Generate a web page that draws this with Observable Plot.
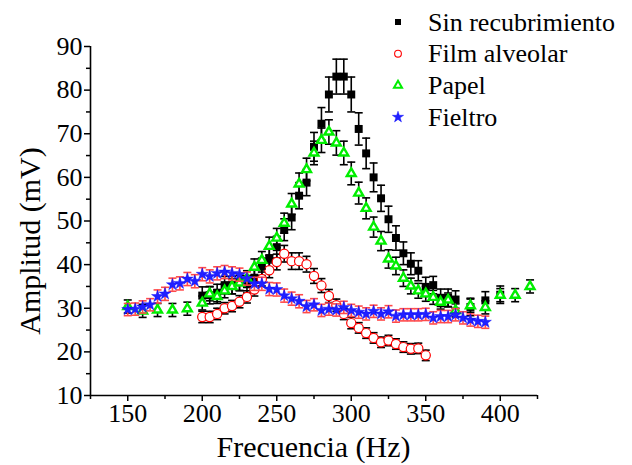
<!DOCTYPE html>
<html><head><meta charset="utf-8">
<script src="https://cdn.jsdelivr.net/npm/d3@7"></script>
<script src="https://cdn.jsdelivr.net/npm/@observablehq/plot@0.6"></script>
<style>
html,body{margin:0;padding:0;background:#fff;}
#wrap{position:relative;width:632px;height:465px;}
#wrap svg text{font-family:"Liberation Serif","Times New Roman",serif;}
</style></head><body><div id="wrap"></div>
<script>
// ---- data ----
const seriesNames = ["Sin recubrimiento", "Film alveolar", "Papel", "Fieltro"];

const fSin = [200,205,210,215,220,225,230,235,240,245,250,255,260,265,270,275,280,285,290,295,300,305,310,315,320,325,330,335,340,345,350,355,360,365,370,380,390,400];
const vSin = [32.9,33.0,33.5,35.3,35.3,36.0,35.5,37.0,39.5,41.5,44.0,48.0,50.8,55.8,58.8,67.0,72.3,79.0,83.1,83.1,79.0,71.1,65.5,60.0,55.2,50.4,46.1,42.6,40.2,38.6,34.9,35.3,32.4,32.4,32.0,30.3,31.8,33.1];
const eSin = [2,2,2,2,2,2,2,2,2,2.2,2.5,2.5,2.8,3,3,3.3,3.7,4,4,4,4,3.7,3.5,3.3,3,3,2.8,2.6,2.5,2.3,2.2,2,2,2,2,2,2,2];

const fFilm = [200,205,210,215,220,225,230,235,240,245,250,255,260,265,270,275,280,285,290,295,300,305,310,315,320,325,330,335,340,345,350];
const vFilm = [28.0,28.0,28.7,30.0,30.5,31.5,32.6,34.3,36.7,38.7,40.6,42.5,40.8,40.8,40.1,37.4,35.2,32.8,30.7,28.7,26.6,25.5,24.3,23.2,22.2,22.6,21.8,21.1,20.7,20.8,19.2];
const eFilm = [1.3,1.3,1.3,1.3,1.3,1.4,1.4,1.5,1.6,1.7,1.8,1.9,1.9,1.9,1.8,1.7,1.6,1.5,1.4,1.3,1.3,1.2,1.2,1.2,1.2,1.2,1.2,1.2,1.2,1.2,1.2];

const fPapel = [150,160,170,180,190,200,205,210,215,220,225,230,235,240,245,250,255,260,265,270,275,280,285,290,295,300,305,310,315,320,325,330,335,340,345,350,355,360,365,370,380,390,400,410,420];
const vPapel = [30.4,29.4,29.6,29.6,29.9,31.2,33.3,32.7,34.0,35.0,35.8,36.8,39.4,41.0,44.2,46.1,49.5,53.9,58.5,61.8,65.6,68.5,70.4,67.9,65.6,60.9,56.4,52.9,48.6,45.4,41.3,39.7,36.9,35.1,34.0,33.3,32.5,31.4,31.9,29.5,30.6,30.2,33.0,33.0,35.0];
const ePapel = [1.5,1.5,1.5,1.5,1.5,1.6,1.6,1.6,1.6,1.7,1.7,1.8,1.9,2,2.1,2.2,2.3,2.4,2.5,2.6,2.7,2.8,2.8,2.8,2.7,2.6,2.5,2.4,2.3,2.2,2.1,2,1.9,1.8,1.7,1.7,1.6,1.6,1.6,1.5,1.5,1.5,1.5,1.5,1.5];

const fFieltro = [150,155,160,165,170,175,180,185,190,195,200,205,210,215,220,225,230,235,240,245,250,255,260,265,270,275,280,285,290,295,300,305,310,315,320,325,330,335,340,345,350,355,360,365,370,375,380,385,390];
const vFieltro = [29.7,29.8,30.3,30.8,32.7,33.3,35.4,35.7,36.7,36.2,37.8,37.3,38.0,38.3,38.0,37.7,36.8,35.6,35.6,34.4,34.3,32.9,32.2,31.6,30.4,30.8,29.5,29.8,29.6,30.2,29.5,29.1,28.7,29.3,28.7,29.2,28.2,28.5,28.5,28.5,28.6,27.8,28.1,28.1,28.5,27.8,27.3,27.0,26.8];
const eFieltro = [1.4,1.4,1.4,1.4,1.5,1.5,1.5,1.5,1.5,1.5,1.5,1.5,1.5,1.5,1.5,1.5,1.5,1.5,1.5,1.5,1.5,1.5,1.5,1.5,1.4,1.4,1.4,1.4,1.4,1.4,1.4,1.4,1.4,1.4,1.4,1.4,1.4,1.4,1.4,1.4,1.4,1.4,1.4,1.4,1.4,1.4,1.4,1.4,1.4];

const xMajor = [150,200,250,300,350,400];
const xMinor = [125,175,225,275,325,375,425];
const yMajor = [10,20,30,40,50,60,70,80,90];
const yMinor = [15,25,35,45,55,65,75,85];
const xTitle = "Frecuencia (Hz)";
const yTitle = "Amplitud (mV)";

// ---- build tables ----
const rows = (f, v, e) => f.map((x, i) => ({f: x, v: v[i], lo: v[i] - e[i], hi: v[i] + e[i]}));
const dSin = rows(fSin, vSin, eSin);
const dFilm = rows(fFilm, vFilm, eFilm);
const dPapel = rows(fPapel, vPapel, ePapel);
const dFieltro = rows(fFieltro, vFieltro, eFieltro);

const cap = {draw(ctx, size) { const w = Math.sqrt(size / Math.PI); ctx.moveTo(-w, 0); ctx.lineTo(w, 0); }};
const font = "'Liberation Serif', 'Times New Roman', serif";

function errMarks(data, color) {
  return [
    Plot.ruleX(data, {x: "f", y1: "lo", y2: "hi", stroke: color, strokeWidth: 1.6}),
    Plot.dot(data, {x: "f", y: "hi", symbol: cap, r: 4, stroke: color, strokeWidth: 1.6, fill: "none"}),
    Plot.dot(data, {x: "f", y: "lo", symbol: cap, r: 4, stroke: color, strokeWidth: 1.6, fill: "none"})
  ];
}

const plot = Plot.plot({
  width: 632, height: 465,
  marginLeft: 90, marginRight: 95, marginTop: 46, marginBottom: 70,
  style: {fontFamily: font, fontSize: "26px", background: "white", color: "black"},
  x: {domain: [125, 425]},
  y: {domain: [10, 90]},
  marks: [
    Plot.axisX({ticks: xMajor, tickSize: 6, tickPadding: 2, fontSize: 26, label: null, tickFormat: d => String(d), strokeWidth: 1.5}),
    Plot.axisX({ticks: xMinor, tickSize: 4, tickFormat: () => "", label: null, strokeWidth: 1.5}),
    Plot.axisY({ticks: yMajor, tickSize: 6, tickPadding: 2, fontSize: 26, label: null, tickFormat: d => String(d), strokeWidth: 1.5}),
    Plot.axisY({ticks: yMinor, tickSize: 4, tickFormat: () => "", label: null, strokeWidth: 1.5}),
    Plot.ruleX([125], {strokeWidth: 1.6}),
    Plot.ruleY([10], {strokeWidth: 1.6}),
    ...errMarks(dSin, "black"),
    Plot.dot(dSin, {x: "f", y: "v", symbol: "square", r: 4.5, fill: "black"}),
    ...errMarks(dFilm, "black"),
    Plot.dot(dFilm, {x: "f", y: "v", symbol: "circle", r: 4.6, fill: "white", stroke: "#ff0000", strokeWidth: 1.2}),
    ...errMarks(dPapel, "black"),
    Plot.dot(dPapel, {x: "f", y: "v", symbol: "triangle", r: 3.3, fill: "white", stroke: "#00ee00", strokeWidth: 2.4}),
    ...errMarks(dFieltro, "#ff4a4a"),
    Plot.dot(dFieltro, {x: "f", y: "v", symbol: "star", r: 3.8, fill: "#2020ff", stroke: "#0000ff", strokeWidth: 0.4})
  ]
});

document.getElementById("wrap").appendChild(plot);

// axis titles
const svg = d3.select(plot);
svg.append("text").attr("x", 313.5).attr("y", 457).attr("text-anchor", "middle")
  .style("font-family", font).style("font-size", "30px").attr("fill", "black").text(xTitle);
svg.append("text").attr("transform", "translate(40,241) rotate(-90)").attr("text-anchor", "middle")
  .style("font-family", font).style("font-size", "30px").attr("fill", "black").text(yTitle);

// legend
const legendSpec = [
  {name: seriesNames[0], sym: d3.symbolSquare, size: 36, fill: "black", stroke: "none", sw: 0},
  {name: seriesNames[1], sym: d3.symbolCircle, size: 36, fill: "white", stroke: "#ff0000", sw: 1.1},
  {name: seriesNames[2], sym: d3.symbolTriangle, size: 28, fill: "white", stroke: "#00ee00", sw: 2},
  {name: seriesNames[3], sym: d3.symbolStar, size: 40, fill: "#2020ff", stroke: "#0000ff", sw: 0.4}
];
const lg = svg.append("g").attr("text-anchor", "start");
legendSpec.forEach((s, i) => {
  const cy = 22 + i * 31.7;
  lg.append("path").attr("d", d3.symbol(s.sym, s.size)()).attr("transform", `translate(398,${cy})`)
    .attr("fill", s.fill).attr("stroke", s.stroke).attr("stroke-width", s.sw);
  lg.append("text").attr("x", 428).attr("y", cy + 8.5).attr("text-anchor", "start")
    .style("font-family", font).style("font-size", "26px")
    .attr("fill", "black").text(s.name);
});
</script>
</body></html>
